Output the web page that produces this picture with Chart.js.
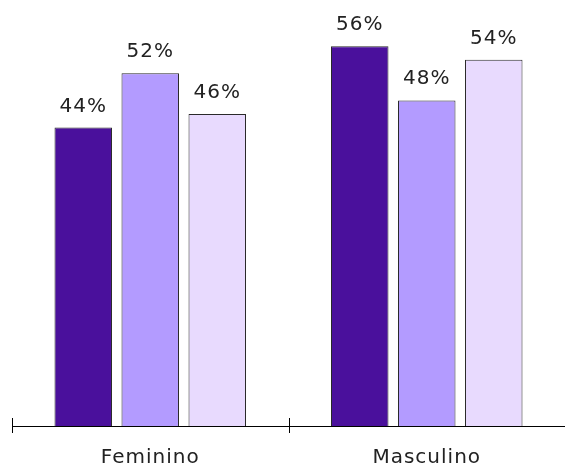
<!DOCTYPE html>
<html>
<head>
<meta charset="utf-8">
<script src="https://cdn.jsdelivr.net/npm/chart.js@4"></script>
<style>
  html, body { margin: 0; padding: 0; background: #fff; }
  #wrap { width: 565px; height: 469px; }
</style>
</head>
<body>
<div id="wrap"><canvas id="c" width="565" height="469"></canvas></div>
<script>
// Categories and the three series (percentages)
const categories = ['Feminino', 'Masculino'];
const serieA = [44, 56];
const serieB = [52, 48];
const serieC = [46, 54];
const seriesNames = ['A', 'B', 'C'];

const FONT = '"DejaVu Sans", sans-serif';
const SPACING = '1px';

// Slightly wider letter spacing for all chart text
const textSpacing = {
  id: 'textSpacing',
  beforeDraw(chart) { chart.ctx.letterSpacing = SPACING; }
};

// Value labels above each bar
const valueLabels = {
  id: 'valueLabels',
  afterDatasetsDraw(chart) {
    const ctx = chart.ctx;
    ctx.save();
    ctx.letterSpacing = SPACING;
    ctx.font = '20px ' + FONT;
    ctx.fillStyle = '#222';
    ctx.textAlign = 'center';
    ctx.textBaseline = 'alphabetic';
    chart.data.datasets.forEach((ds, i) => {
      chart.getDatasetMeta(i).data.forEach((bar, j) => {
        ctx.fillText(ds.data[j] + '%', bar.x, bar.y - 16);
      });
    });
    ctx.restore();
  }
};

// Category boundary ticks that cross the baseline
const boundaryTicks = {
  id: 'boundaryTicks',
  afterDraw(chart) {
    const x = chart.scales.x;
    const ctx = chart.ctx;
    const n = chart.data.labels.length;
    const w = (x.right - x.left) / n;
    const yBase = chart.chartArea.bottom;
    ctx.save();
    ctx.strokeStyle = '#000';
    ctx.lineWidth = 1;
    for (let i = 0; i <= n; i++) {
      const px = Math.round(x.left + i * w) + 0.5;
      ctx.beginPath();
      ctx.moveTo(px, yBase - 8);
      ctx.lineTo(px, yBase + 7);
      ctx.stroke();
    }
    ctx.restore();
  }
};

new Chart(document.getElementById('c'), {
  type: 'bar',
  data: {
    labels: categories,
    datasets: [
      { label: seriesNames[0], data: serieA, backgroundColor: '#4a109c' },
      { label: seriesNames[1], data: serieB, backgroundColor: '#b39bff' },
      { label: seriesNames[2], data: serieC, backgroundColor: '#e8dafe' }
    ].map(d => Object.assign(d, {
      borderColor: '#2a2a2a',
      borderWidth: 1,
      categoryPercentage: 0.727,
      barPercentage: 0.858
    }))
  },
  options: {
    responsive: false,
    animation: false,
    layout: { padding: { left: 12, right: 0, top: 0, bottom: -12 } },
    plugins: { legend: { display: false }, tooltip: { enabled: false } },
    scales: {
      x: {
        grid: { display: false },
        border: { display: true, color: '#000', width: 1 },
        ticks: { color: '#222', font: { family: FONT, size: 20, lineHeight: 0.45 }, padding: 19 }
      },
      y: {
        display: false,
        min: 0,
        max: 62.8
      }
    }
  },
  plugins: [textSpacing, valueLabels, boundaryTicks]
});
</script>
</body>
</html>
